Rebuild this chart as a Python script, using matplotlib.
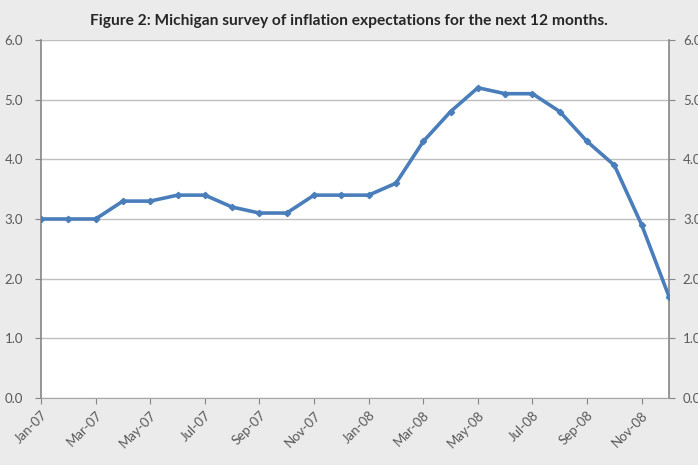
import numpy as np
import matplotlib.pyplot as plt

# Michigan survey, 12-month inflation expectations (%)
months = ['Jan-07', 'Feb-07', 'Mar-07', 'Apr-07', 'May-07', 'Jun-07',
          'Jul-07', 'Aug-07', 'Sep-07', 'Oct-07', 'Nov-07', 'Dec-07',
          'Jan-08', 'Feb-08', 'Mar-08', 'Apr-08', 'May-08', 'Jun-08',
          'Jul-08', 'Aug-08', 'Sep-08', 'Oct-08', 'Nov-08', 'Dec-08']
expect = [3.0, 3.0, 3.0, 3.3, 3.3, 3.4, 3.4, 3.2, 3.1, 3.1, 3.4, 3.4,
          3.4, 3.6, 4.3, 4.8, 5.2, 5.1, 5.1, 4.8, 4.3, 3.9, 2.9, 1.7]
yticks = [0.0, 1.0, 2.0, 3.0, 4.0, 5.0, 6.0]

plt.rcParams['font.family'] = ['Lato', 'DejaVu Sans']

fig = plt.figure(figsize=(6.98, 4.65), dpi=100)
fig.patch.set_facecolor('#ebebeb')
ax = fig.add_axes([41/698, 67/465, 628/698, 358/465])
ax.set_facecolor('white')

x = np.arange(len(months))
ax.plot(x, expect, color='#4a7ebb', lw=2.6, marker='D', ms=3.2,
        solid_joinstyle='round', zorder=3)

ax.set_xlim(0, len(months) - 1)
ax.set_ylim(0, 6)
ax.set_yticks(yticks)
ax.set_yticklabels([f'{v:.1f}' for v in yticks])
ax.yaxis.grid(True, color='#bfbfbf', lw=1.0)
ax.set_axisbelow(True)

ax.set_xticks(x[::2])
ax.set_xticklabels(months[::2], rotation=45, ha='right', rotation_mode='anchor')

for s in ['left', 'right']:
    ax.spines[s].set_color('#868686')
    ax.spines[s].set_linewidth(1.2)
ax.spines['bottom'].set_color('#a6a6a6')
ax.spines['top'].set_visible(False)
ax.tick_params(axis='both', colors='#868686', labelcolor='#595959',
               labelsize=9.5, length=4)
ax.tick_params(axis='y', pad=9)
ax.tick_params(axis='x', pad=4)

ax2 = ax.twinx()
ax2.set_ylim(0, 6)
ax2.set_yticks(yticks)
ax2.set_yticklabels([f'{v:.1f}' for v in yticks])
for s in ['left', 'right', 'top', 'bottom']:
    ax2.spines[s].set_visible(False)
ax2.tick_params(axis='y', colors='#868686', labelcolor='#595959',
                labelsize=9.5, length=4, pad=6)

fig.text(0.5, 1 - 21/465, 'Figure 2: Michigan survey of inflation expectations for the next 12 months.',
         ha='center', va='center', fontsize=11.2, fontweight='bold', color='#262626')

fig.savefig('out.png', dpi=100, facecolor=fig.get_facecolor())
